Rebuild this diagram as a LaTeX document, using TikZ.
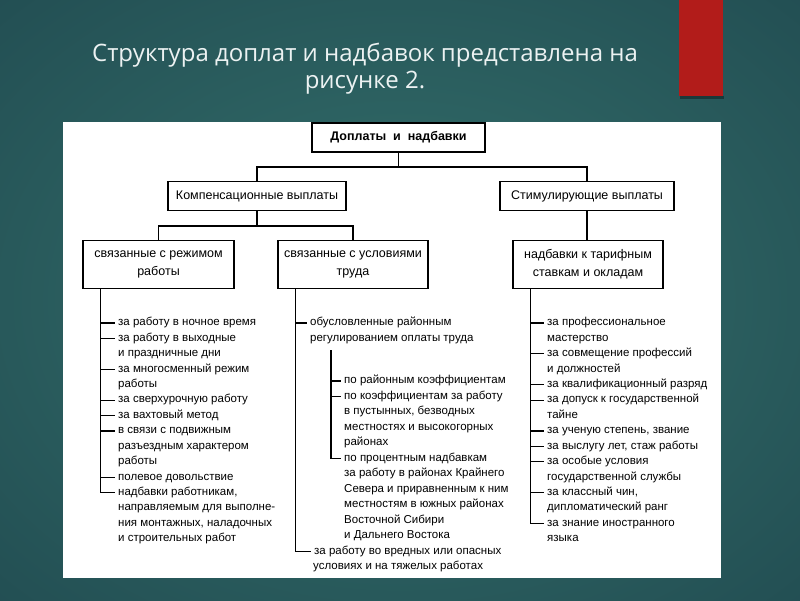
\documentclass[tikz,border=0pt]{standalone}
\usepackage{fontspec}
\setmainfont{Liberation Sans}
\newfontfamily\titlefont{Open Sans}
\usetikzlibrary{calc}
\definecolor{bgin}{RGB}{52,112,108}
\definecolor{bgout}{RGB}{17,45,58}
\definecolor{redbar}{RGB}{178,28,26}
\definecolor{titletext}{RGB}{236,242,242}
\pgfdeclareradialshading{bgshade}{\pgfpoint{0bp}{0bp}}{color(0bp)=(bgin); color(72bp)=(bgout)}
\begin{document}
\begin{tikzpicture}[x=1pt,y=-1pt,
  box/.style={draw=black,line width=1.1pt,fill=white,inner sep=0pt,align=center,font=\fontsize{12.5}{18}\selectfont},
  item/.style={anchor=west,inner xsep=3pt,inner ysep=0pt,text height=8pt,text depth=2.5pt,font=\fontsize{11.5}{15}\selectfont},
  conn/.style={line width=1.2pt,black},
  ttl/.style={anchor=base,text=titletext,inner sep=0pt,font=\titlefont\fontsize{24}{28}\selectfont}
]
\useasboundingbox (0,0) rectangle (800,600);
\shade[shading=bgshade] (0,0) rectangle (800,600);
% red bar with shadow
\fill[black,opacity=0.35] (680,96) rectangle (724,99);
\fill[redbar] (679,0) rectangle (723,96);
% title
\node[ttl] (title1) at (365,61) {Структура доплат и надбавок представлена на};
\node[ttl] (title2) at (365,88) {рисунке 2.};
% white panel
\fill[white] (63,122) rectangle (721,578);

% boxes
\node[box,font=\bfseries\fontsize{12.5}{15}\selectfont,minimum width=173pt,minimum height=29pt] (top) at (398.5,137.5) {Доплаты \ и \ надбавки};
\node[box,minimum width=178pt,minimum height=29pt] (comp) at (257,196) {Компенсационные выплаты};
\node[box,minimum width=174pt,minimum height=29pt] (stim) at (587,196) {Стимулирующие выплаты};
\node[box,minimum width=151pt,minimum height=47.5pt] (rezh) at (158.5,264.5) {связанные с режимом\\работы};
\node[box,minimum width=150pt,minimum height=47.5pt] (usl) at (353,264.5) {связанные с условиями\\труда};
\node[box,minimum width=150pt,minimum height=47.5pt] (tarif) at (588,264.5) {надбавки к тарифным\\ставкам и окладам};

% box connectors
\draw[conn] (top.south) -- ++(0,14.5) coordinate (hub1) -| (comp.north);
\draw[conn] (hub1) -| (stim.north);
\draw[conn] (comp.south) -- ++(0,15) coordinate (hub2) -| (rezh.north);
\draw[conn] (hub2) -| (usl.north);
\draw[conn] (stim.south) -- (stim.south |- tarif.north);

\coordinate (vA) at ($(rezh.south west)+(18,0)$);
\coordinate (vB) at ($(usl.south west)+(18,0)$);
\coordinate (vC) at ($(tarif.south west)+(18,0)$);
\coordinate (vD) at (331,350);

% left column
\foreach \t [count=\i from 0] in {за работу в ночное время,за работу в выходные,и праздничные дни,за многосменный режим,работы,за сверхурочную работу,за вахтовый метод,в связи с подвижным,разъездным характером,работы,полевое довольствие,{надбавки работникам,},направляемым для выполне-,{ния монтажных, наладочных},и строительных работ}
  \node[item] (a\i) at (115,{323+15.43*\i}) {\t};
\draw[conn] (vA) |- (a11.west);
\foreach \n in {a0,a1,a3,a5,a6,a7,a10}
  \draw[conn] (vA |- \n.west) -- (\n.west);

% middle column
\node[item] (b0) at (307,323) {обусловленные районным};
\node[item] (b1) at (307,338.4) {регулированием оплаты труда};
\foreach \t [count=\i from 0] in {по районным коэффициентам,по коэффициентам за работу,{в пустынных, безводных},местностях и высокогорных,районах,по процентным надбавкам,за работу в районах Крайнего,Севера и приравненным к ним,местностям в южных районах,Восточной Сибири,и Дальнего Востока}
  \node[item] (c\i) at (341,{381+15.5*\i}) {\t};
\node[item] (d0) at (311,551.5) {за работу во вредных или опасных};
\node[item] (d1) at (310,567) {условиях и на тяжелых работах};
\draw[conn] (vB) |- (d0.west);
\draw[conn] (vB |- b0.west) -- (b0.west);
\draw[conn] (vD) |- (c5.west);
\foreach \n in {c0,c1}
  \draw[conn] (vD |- \n.west) -- (\n.west);

% right column
\foreach \t [count=\i from 0] in {за профессиональное,мастерство,за совмещение профессий,и должностей,за квалификационный разряд,за допуск к государственной,тайне,{за ученую степень, звание},{за выслугу лет, стаж работы},за особые условия,государственной службы,{за классный чин,},дипломатический ранг,за знание иностранного,языка}
  \node[item] (r\i) at (544,{323+15.43*\i}) {\t};
\draw[conn] (vC) |- (r13.west);
\foreach \n in {r0,r2,r4,r5,r7,r8,r9,r11}
  \draw[conn] (vC |- \n.west) -- (\n.west);
\end{tikzpicture}
\end{document}
